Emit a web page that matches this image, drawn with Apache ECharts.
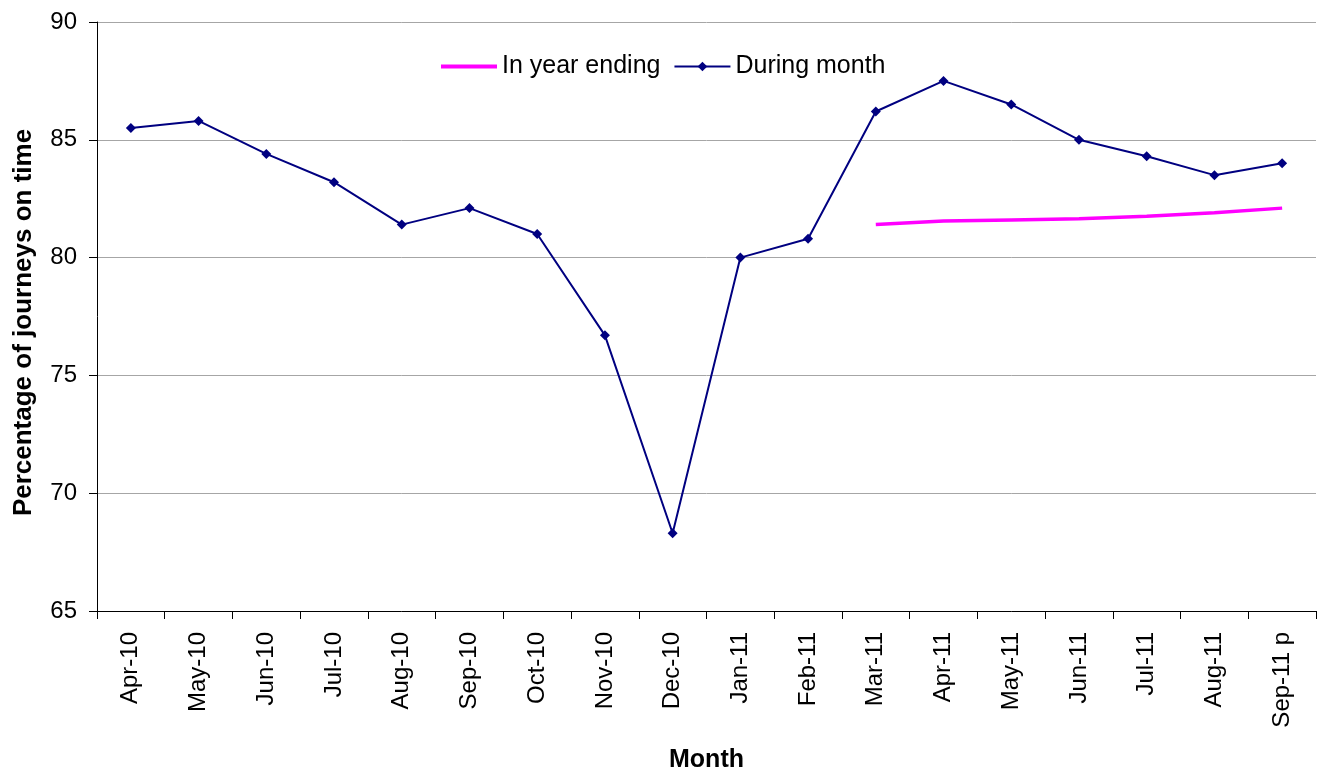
<!DOCTYPE html>
<html><head><meta charset="utf-8">
<script src="https://cdn.jsdelivr.net/npm/echarts@6/dist/echarts.min.js"></script>
<style>html,body{margin:0;padding:0;background:#fff}#c{width:1320px;height:773px}</style>
</head><body><div id="c"></div>
<script>
const categories = ['Apr-10','May-10','Jun-10','Jul-10','Aug-10','Sep-10','Oct-10','Nov-10','Dec-10','Jan-11','Feb-11','Mar-11','Apr-11','May-11','Jun-11','Jul-11','Aug-11','Sep-11 p'];
const duringMonth = [85.5,85.8,84.4,83.2,81.4,82.1,81.0,76.7,68.3,80.0,80.8,86.2,87.5,86.5,85.0,84.3,83.5,84.0];
const inYearEnding = [null,null,null,null,null,null,null,null,null,null,null,81.4,81.55,81.6,81.65,81.75,81.9,82.1];
const yTicks = {min:65, max:90, interval:5};
const font = 'Liberation Sans, Arial, sans-serif';
const chart = echarts.init(document.getElementById('c'), null, {renderer:'canvas'});
chart.setOption({
  animation:false,
  backgroundColor:'#fff',
  grid:{left:97, right:4, top:22, bottom:162, containLabel:false, outerBoundsMode:'none'},
  legend:{
    left:441, top:54, padding:0, itemWidth:56, itemHeight:12, itemGap:13, symbolKeepAspect:true,
    textStyle:{fontFamily:font, fontSize:25, color:'#000'},
    data:[
      {name:'In year ending', icon:'path://M0,0H56V4H0Z', itemStyle:{color:'#FF00FF', borderWidth:0}},
      {name:'During month'}
    ]
  },
  xAxis:{
    type:'category', data:categories, boundaryGap:true,
    name:'Month', nameLocation:'middle', nameGap:137,
    nameTextStyle:{fontFamily:font, fontSize:25, fontWeight:'bold', color:'#000'},
    axisLine:{lineStyle:{color:'#000', width:1}},
    axisTick:{show:true, alignWithLabel:false, length:8, lineStyle:{color:'#000'}},
    axisLabel:{rotate:90, fontFamily:font, fontSize:24, color:'#000', margin:21, interval:0}
  },
  yAxis:{
    type:'value', min:yTicks.min, max:yTicks.max, interval:yTicks.interval,
    name:'Percentage of journeys on time', nameLocation:'middle', nameGap:60,
    nameTextStyle:{fontFamily:font, fontSize:26, fontWeight:'bold', color:'#000', padding:[0,12,0,0]},
    axisLine:{show:true, lineStyle:{color:'#000', width:1}},
    axisTick:{show:true, length:8, lineStyle:{color:'#000'}},
    axisLabel:{fontFamily:font, fontSize:24, color:'#000', margin:20},
    splitLine:{lineStyle:{color:'#a6a6a6', width:1}}
  },
  series:[
    {name:'In year ending', type:'line', data:inYearEnding, showSymbol:false, symbol:'none',
     lineStyle:{color:'#FF00FF', width:3.5}, itemStyle:{color:'#FF00FF'}, connectNulls:false},
    {name:'During month', type:'line', data:duringMonth, symbol:'diamond', symbolSize:10,
     lineStyle:{color:'#000080', width:2}, itemStyle:{color:'#000080'}}
  ]
});
</script></body></html>
